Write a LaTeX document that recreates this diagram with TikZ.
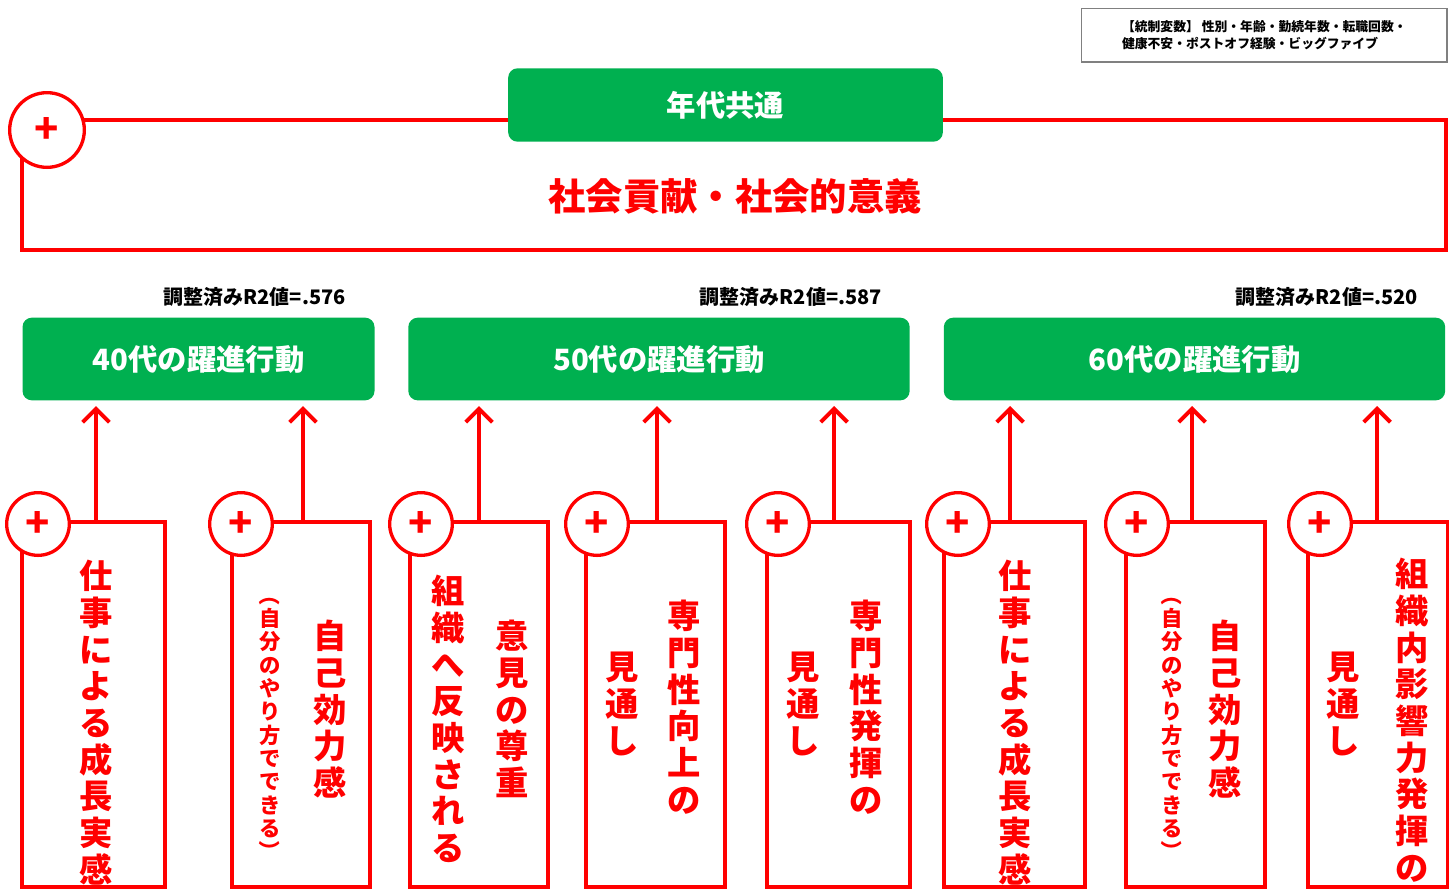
\documentclass[tikz,border=0pt]{standalone}
\usepackage{fontspec}
\setmainfont{Noto Sans CJK JP}
\usetikzlibrary{arrows.meta}
\definecolor{rd}{RGB}{255,0,0}
\definecolor{gr}{RGB}{0,176,80}
\tikzset{
 rbox/.style={draw=rd,line width=3pt,fill=white},
 gbox/.style={fill=gr,rounded corners=7pt,text=white,font=\bfseries\fontsize{22}{24}\selectfont},
 pluscirc/.style={circle,draw=rd,line width=2.5pt,fill=white,minimum size=47pt,inner sep=0pt,text=rd,font=\bfseries\fontsize{30}{30}\selectfont},
 arr/.style={draw=rd,line width=3pt,-{Straight Barb[length=10pt,width=20pt,line width=3pt]}},
 vbig/.style={text=rd,align=center,anchor=north,inner sep=0pt,font=\bfseries\fontsize{25}{27.5}\selectfont},
 vsmall/.style={text=rd,align=center,anchor=north,inner sep=0pt,font=\bfseries\fontsize{16}{17.5}\selectfont},
 r2/.style={anchor=east,inner sep=0pt,font=\bfseries\fontsize{15}{16}\selectfont},
}
\newcommand{\lp}{\rotatebox[origin=c]{-90}{（}}
\newcommand{\rp}{\rotatebox[origin=c]{-90}{）}}
\begin{document}
\begin{tikzpicture}[x=0.75pt,y=-0.75pt]
\useasboundingbox (0,0) rectangle (1449,890);
% control variables
\node[draw=gray,line width=1pt,minimum width=274pt,minimum height=40pt,align=left,anchor=north west,inner sep=0pt,font=\bfseries\fontsize{9.6}{13}\selectfont] (cv) at (1081,8) {【統制変数】 性別・年齢・勤続年数・転職回数・\\健康不安・ポストオフ経験・ビッグファイブ};
% top box
\draw[rbox] (22,120) rectangle (1446,250);
\node[pluscirc,minimum size=56pt] (ptop) at (47,130) {+};
\node[gbox,minimum width=326pt,minimum height=55pt] (common) at (725.5,105) {年代共通};
\node[text=rd,font=\bfseries\fontsize{28}{30}\selectfont] (soc) at (735,196) {社会貢献・社会的意義};
% R2
\node[r2] (r40) at (346,297) {調整済みR2値=.576};
\node[r2] (r50) at (882,297) {調整済みR2値=.587};
\node[r2] (r60) at (1418,297) {調整済みR2値=.520};
% age boxes
\node[gbox,minimum width=264pt,minimum height=62pt] (g40) at (198.5,359) {40代の躍進行動};
\node[gbox,minimum width=376pt,minimum height=62pt] (g50) at (659,359) {50代の躍進行動};
\node[gbox,minimum width=376pt,minimum height=62pt] (g60) at (1194.5,359) {60代の躍進行動};
% bottom boxes
\foreach \n/\a/\b/\c/\ax in {1/22/165/38/96, 2/232/370/241/303, 3/410/548/421/479, 4/586/725/597/657, 5/767/910/778/834, 6/944/1085/958/1010, 7/1126/1265/1137/1192, 8/1308/1448/1320/1377}{
  \coordinate (t\n) at (\ax,522);
  \coordinate (h\n) at (\ax,406);
  \draw[arr] (t\n) -- (h\n);
  \draw[rbox] (\a,522) rectangle (\b,887);
  \node[pluscirc] (p\n) at (\c,524) {+};
}
% texts
\node[vbig] (x1) at (96,560) {仕\\事\\に\\よ\\る\\成\\長\\実\\感};
\node[vbig] (x2a) at (330,620) {自\\己\\効\\力\\感};
\node[vsmall] (x2b) at (270,584) {\lp\\自\\分\\の\\や\\り\\方\\で\\で\\き\\る\\\rp};
\node[vbig] (x3a) at (512,620) {意\\見\\の\\尊\\重};
\node[vbig] (x3b) at (448,575) {組\\織\\へ\\反\\映\\さ\\れ\\る};
\node[vbig] (x4a) at (684,600) {専\\門\\性\\向\\上\\の};
\node[vbig] (x4b) at (622,652) {見\\通\\し};
\node[vbig] (x5a) at (866,600) {専\\門\\性\\発\\揮\\の};
\node[vbig] (x5b) at (803,652) {見\\通\\し};
\node[vbig] (x6) at (1015,560) {仕\\事\\に\\よ\\る\\成\\長\\実\\感};
\node[vbig] (x7a) at (1225,620) {自\\己\\効\\力\\感};
\node[vsmall] (x7b) at (1172,584) {\lp\\自\\分\\の\\や\\り\\方\\で\\で\\き\\る\\\rp};
\node[vbig] (x8a) at (1412,558) {組\\織\\内\\影\\響\\力\\発\\揮\\の};
\node[vbig] (x8b) at (1343,652) {見\\通\\し};
\end{tikzpicture}
\end{document}
